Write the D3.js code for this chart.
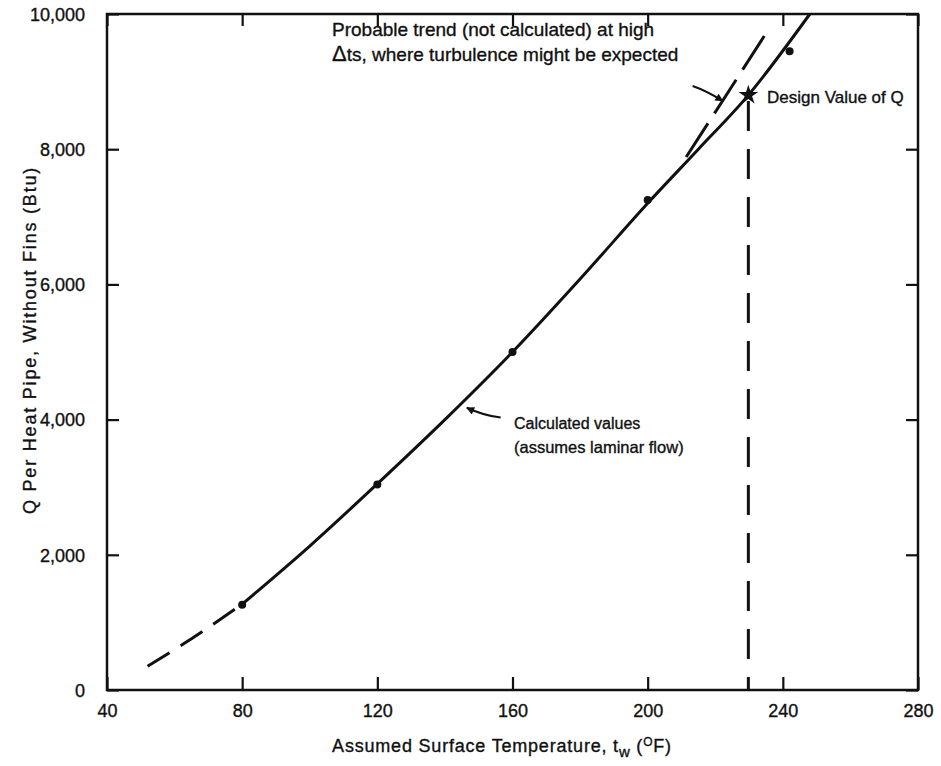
<!DOCTYPE html>
<html><head><meta charset="utf-8">
<script src="https://cdn.jsdelivr.net/npm/d3@7/dist/d3.min.js"></script>
<style>
body{margin:0;background:#fff;}
text{font-family:"Liberation Sans",Arial,sans-serif;fill:#111;stroke:#111;stroke-width:0.35px;}
</style></head>
<body><svg id="c" width="941" height="766"></svg>
<script>
// ---- data ----
const xTicks = [40, 80, 120, 160, 200, 240, 280];
const yTicks = [0, 2000, 4000, 6000, 8000, 10000];
// calculated points (°F, Btu)
const pointT = [80, 120, 160, 200, 242];
const pointQ = [1260, 3040, 5000, 7250, 9450];
// design value
const designT = 229.8, designQ = 8800;
// solid calculated curve knots
const curveT = [80, 100, 120, 140, 160, 180, 200, 215, 229.8, 248];
const curveQ = [1270, 2130, 3050, 4000, 5000, 6080, 7200, 8000, 8800, 10000];
// dashed lower extension
const extT = [52, 66, 80];
const extQ = [350, 790, 1270];
// probable trend (dashed)
const trendT = [211.4, 223, 234.7];
const trendQ = [7885, 8780, 9690];
// annotation arrows [tailT, tailQ, headT, headQ]
const arrowCalc = [156.5, 4030, 146.5, 4175];
const arrowTrend = [213.3, 8935, 222.2, 8715];

(function () {
const svg = d3.select("#c");
const x = d3.scaleLinear().domain([40, 280]).range([107, 918]);
const y = d3.scaleLinear().domain([0, 10000]).range([690, 14]);
const ink = "#111";

// frame
svg.append("rect").attr("x", x(40)).attr("y", y(10000))
  .attr("width", x(280) - x(40)).attr("height", y(0) - y(10000))
  .attr("fill", "none").attr("stroke", ink).attr("stroke-width", 2.5);

// axes with inward ticks
const gB = svg.append("g").attr("transform", `translate(0,${y(0)})`)
  .call(d3.axisBottom(x).tickValues(xTicks).tickSizeInner(-13).tickSizeOuter(0).tickPadding(23).tickFormat(d3.format("d")));
const gT = svg.append("g").attr("transform", `translate(0,${y(10000)})`)
  .call(d3.axisTop(x).tickValues(xTicks).tickSizeInner(-12).tickSizeOuter(0).tickFormat(""));
const gL = svg.append("g").attr("transform", `translate(${x(40)},0)`)
  .call(d3.axisLeft(y).tickValues(yTicks).tickSizeInner(-12).tickSizeOuter(0).tickPadding(22).tickFormat(d3.format(",")));
const gR = svg.append("g").attr("transform", `translate(${x(280)},0)`)
  .call(d3.axisRight(y).tickValues(yTicks).tickSizeInner(-12).tickSizeOuter(0).tickFormat(""));
[gB, gT, gL, gR].forEach(g => {
  g.select(".domain").remove();
  g.selectAll(".tick line").attr("stroke", ink).attr("stroke-width", 2.2);
  g.selectAll("text").attr("fill", ink).style("font-size", "18px")
    .style("font-family", '"Liberation Sans",Arial,sans-serif');
});
gB.selectAll("text").attr("dy", "0.2em");
gL.selectAll("text").attr("dy", "0.35em");

// axis titles
const xt = svg.append("text").attr("x", 502).attr("y", 752).attr("text-anchor", "middle")
  .style("font-size", "18px").style("letter-spacing", "0.8px");
xt.append("tspan").text("Assumed Surface Temperature, t");
xt.append("tspan").attr("dy", 5).style("font-size", "15px").text("w");
xt.append("tspan").attr("dy", -5).text(" (");
xt.append("tspan").attr("dy", -6).style("font-size", "12px").text("O");
xt.append("tspan").attr("dy", 6).text("F)");

svg.append("text").attr("transform", "translate(36,340) rotate(-90)")
  .attr("text-anchor", "middle").style("font-size", "18px").style("letter-spacing", "1.8px")
  .text("Q Per Heat Pipe, Without Fins (Btu)");

// lines
const mk = (ts, qs) => ts.map((t, i) => [t, qs[i]]);
const lineC = d3.line().x(d => x(d[0])).y(d => y(d[1])).curve(d3.curveCatmullRom);
const lineS = d3.line().x(d => x(d[0])).y(d => y(d[1]));
svg.append("path").attr("d", lineC(mk(curveT, curveQ)))
  .attr("fill", "none").attr("stroke", ink).attr("stroke-width", 3);
svg.append("path").attr("d", lineC(mk(extT, extQ)))
  .attr("fill", "none").attr("stroke", ink).attr("stroke-width", 3).attr("stroke-dasharray", "26,13");
svg.append("path").attr("d", lineS(mk(trendT, trendQ)))
  .attr("fill", "none").attr("stroke", ink).attr("stroke-width", 3).attr("stroke-dasharray", "40,12");
// vertical dashed design line
svg.append("line").attr("x1", x(designT)).attr("x2", x(designT))
  .attr("y1", y(designQ) + 6).attr("y2", y(0))
  .attr("stroke", ink).attr("stroke-width", 3).attr("stroke-dasharray", "30,18");

// points
svg.selectAll("circle.pt").data(pointT).join("circle").attr("class", "pt")
  .attr("cx", d => x(d)).attr("cy", (d, i) => y(pointQ[i])).attr("r", 4).attr("fill", ink);
// design marker (star)
const star = d3.symbol().type(d3.symbolStar).size(120);
svg.append("path").attr("d", star()).attr("transform", `translate(${x(designT)},${y(designQ)})`).attr("fill", ink);

// arrows
const defs = svg.append("defs");
defs.append("marker").attr("id", "ah").attr("viewBox", "0 0 10 10").attr("refX", 9).attr("refY", 5)
  .attr("markerWidth", 5).attr("markerHeight", 4).attr("orient", "auto")
  .append("path").attr("d", "M0,0 L10,5 L0,10 z").attr("fill", ink);
function arrow(a, bend) {
  const x0 = x(a[0]), y0 = y(a[1]), x1 = x(a[2]), y1 = y(a[3]);
  const mx = (x0 + x1) / 2 + bend[0], my = (y0 + y1) / 2 + bend[1];
  svg.append("path").attr("d", `M${x0},${y0} Q${mx},${my} ${x1},${y1}`)
    .attr("fill", "none").attr("stroke", ink).attr("stroke-width", 2).attr("marker-end", "url(#ah)");
}
arrow(arrowCalc, [0, 3]);
arrow(arrowTrend, [-2, -3]);

// annotations
const ann = (tx, ty, s, fs) => svg.append("text").attr("x", tx).attr("y", ty).style("font-size", fs + "px").text(s);
ann(332, 36, "Probable trend (not calculated) at high", 19);
const l2 = svg.append("text").attr("x", 332).attr("y", 61).style("font-size", "19px");
l2.append("tspan").style("font-size", "22px").text("\u0394");
l2.append("tspan").text("ts, where turbulence might be expected");
ann(767, 103, "Design Value of Q", 17);
ann(514, 429, "Calculated values", 16);
ann(514, 453, "(assumes laminar flow)", 16.5);
})();
</script></body></html>
